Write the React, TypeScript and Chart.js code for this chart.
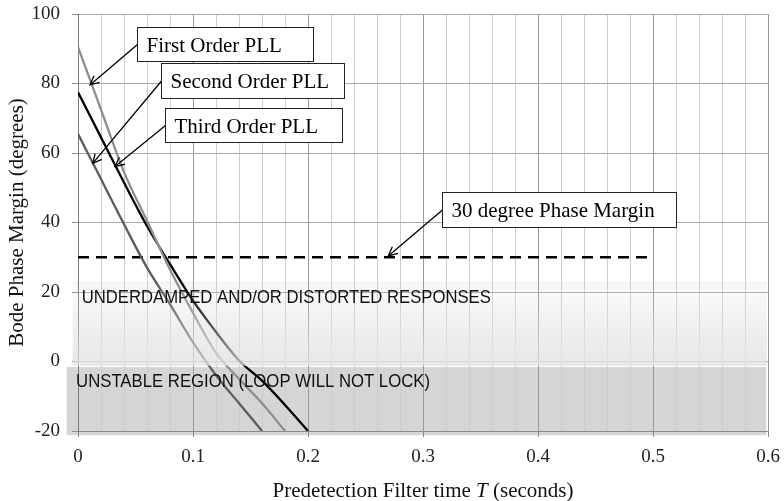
import React, { useEffect, useRef } from 'react';
import { Chart, registerables } from 'chart.js';

Chart.register(...registerables);

// ---- data ----
const timeT = [0, 0.02, 0.04, 0.06, 0.08, 0.1, 0.12, 0.14, 0.16, 0.18, 0.2];
const firstOrderPM = [90.5, 72.5, 54.5, 40.5, 26.5, 14, 2.5, -5, -12, -20];
const secondOrderPM = [65.5, 52.5, 39.5, 27, 16.5, 5.5, -4, -12, -20];
const thirdOrderPM = [77.5, 64.5, 51.5, 39, 28, 17.5, 8.5, 0.3, -5.5, -12.5, -20];
const marginLineT = [0, 0.5];
const marginLineDeg = [30, 30];

const xTickLabels = ['0', '0.1', '0.2', '0.3', '0.4', '0.5', '0.6'];
const xMinorStep = 0.02;
const yTicks = [-20, 0, 20, 40, 60, 80, 100];

const calloutTexts = ['First Order PLL', 'Second Order PLL', 'Third Order PLL', '30 degree Phase Margin'];
const calloutBoxX0 = [0.051, 0.0719, 0.0757, 0.3163];
const calloutBoxX1 = [0.2046, 0.2316, 0.2298, 0.5197];
const calloutBoxYTop = [96.35, 85.81, 72.86, 48.69];
const calloutBoxYBottom = [86.47, 75.74, 63.08, 38.79];
const calloutTipX = [0.0104, 0.0128, 0.0322, 0.2698];
const calloutTipY = [79.6, 57.0, 56.1, 30.36];

const underdampedLabel = 'UNDERDAMPED AND/OR DISTORTED RESPONSES';
const unstableLabel = 'UNSTABLE REGION (LOOP WILL NOT LOCK)';
const underdampedBand = { x0: -0.0046, x1: 0.599, top: 23, bottom: -1.2 };
const unstableBand = { x0: -0.0098, x1: 0.5985, top: -1.6, bottom: -21.2 };
const underdampedText = { x: 0.0032, y: 18.9, x1: 0.359 };
const unstableText = { x: -0.0017, y: -5.3, x1: 0.3061 };

const xTitleA = 'Predetection Filter time ';
const xTitleItalic = 'T';
const xTitleB = ' (seconds)';
const yTitle = 'Bode Phase Margin (degrees)';

const serif = '"Liberation Serif", "Times New Roman", serif';
const sans = '"Liberation Sans", Arial, sans-serif';

function pts(xs: number[], ys: number[]) {
  return ys.map((y, i) => ({ x: xs[i], y }));
}

function isMajor(v: number) {
  return Math.abs(v * 10 - Math.round(v * 10)) < 1e-6;
}

const decorPlugin = {
  id: 'decor',
  beforeDraw(chart: any) {
    const { ctx, scales } = chart;
    const xs = scales.x, ys = scales.y;
    ctx.save();
    ctx.fillStyle = '#d5d5d5';
    const x0 = xs.getPixelForValue(unstableBand.x0);
    const x1 = xs.getPixelForValue(unstableBand.x1);
    const y0 = ys.getPixelForValue(unstableBand.top);
    const y1 = ys.getPixelForValue(unstableBand.bottom);
    ctx.fillRect(x0, y0, x1 - x0, y1 - y0);
    const ux0 = xs.getPixelForValue(underdampedBand.x0);
    const ux1 = xs.getPixelForValue(underdampedBand.x1);
    const uy0 = ys.getPixelForValue(underdampedBand.top);
    const uy1 = ys.getPixelForValue(underdampedBand.bottom);
    const g = ctx.createLinearGradient(0, uy0, 0, uy1);
    g.addColorStop(0, '#f3f3f3');
    g.addColorStop(0.12, '#fafafa');
    g.addColorStop(1, '#e6e6e6');
    ctx.fillStyle = g;
    ctx.fillRect(ux0, uy0, ux1 - ux0, uy1 - uy0);
    ctx.restore();
  },
  afterDatasetsDraw(chart: any) {
    const { ctx, scales } = chart;
    const xs = scales.x, ys = scales.y;
    ctx.save();
    const ux0 = xs.getPixelForValue(underdampedBand.x0);
    const ux1 = xs.getPixelForValue(underdampedBand.x1);
    const uy0 = ys.getPixelForValue(underdampedBand.top);
    const uy1 = ys.getPixelForValue(underdampedBand.bottom);
    const g = ctx.createLinearGradient(0, uy0, 0, uy1);
    g.addColorStop(0, 'rgba(245,245,245,0.0)');
    g.addColorStop(0.4, 'rgba(240,240,240,0.25)');
    g.addColorStop(1, 'rgba(232,232,232,0.75)');
    ctx.fillStyle = g;
    ctx.fillRect(ux0, uy0, ux1 - ux0, uy1 - uy0);

    const drawFit = (text: string, pos: { x: number; y: number; x1: number }) => {
      ctx.font = `19px ${sans}`;
      ctx.fillStyle = '#111';
      ctx.textBaseline = 'alphabetic';
      ctx.textAlign = 'left';
      const left = xs.getPixelForValue(pos.x);
      const right = xs.getPixelForValue(pos.x1);
      const w = ctx.measureText(text).width;
      const cy = ys.getPixelForValue(pos.y);
      ctx.save();
      ctx.translate(left, cy + 6.8);
      ctx.scale((right - left) / w, 1);
      ctx.fillText(text, 0, 0);
      ctx.restore();
    };
    drawFit(underdampedLabel, underdampedText);
    drawFit(unstableLabel, unstableText);

    const fs = 21;
    for (let i = 0; i < calloutTexts.length; i++) {
      const bx0 = Math.round(xs.getPixelForValue(calloutBoxX0[i])) + 0.5;
      const bx1 = Math.round(xs.getPixelForValue(calloutBoxX1[i])) + 0.5;
      const by0 = Math.round(ys.getPixelForValue(calloutBoxYTop[i])) + 0.5;
      const by1 = Math.round(ys.getPixelForValue(calloutBoxYBottom[i])) + 0.5;
      const midY = (by0 + by1) / 2;
      const tx = xs.getPixelForValue(calloutTipX[i]);
      const ty = ys.getPixelForValue(calloutTipY[i]);
      ctx.strokeStyle = '#000';
      ctx.lineWidth = 1.3;
      ctx.beginPath();
      ctx.moveTo(bx0, midY);
      ctx.lineTo(tx, ty);
      ctx.stroke();
      const ang = Math.atan2(midY - ty, bx0 - tx);
      const hl = 10, ha = 0.45;
      ctx.beginPath();
      ctx.moveTo(tx + hl * Math.cos(ang + ha), ty + hl * Math.sin(ang + ha));
      ctx.lineTo(tx, ty);
      ctx.lineTo(tx + hl * Math.cos(ang - ha), ty + hl * Math.sin(ang - ha));
      ctx.stroke();
      ctx.fillStyle = '#fff';
      ctx.fillRect(bx0, by0, bx1 - bx0, by1 - by0);
      ctx.lineWidth = 1;
      ctx.strokeStyle = '#222';
      ctx.strokeRect(bx0, by0, bx1 - bx0, by1 - by0);
      ctx.fillStyle = '#000';
      ctx.font = `${fs}px ${serif}`;
      ctx.textAlign = 'left';
      ctx.textBaseline = 'alphabetic';
      ctx.fillText(calloutTexts[i], bx0 + 9, midY + fs * 0.34);
    }
    ctx.restore();
  },
  afterDraw(chart: any) {
    const { ctx, chartArea } = chart;
    ctx.save();
    ctx.fillStyle = '#111';
    ctx.textBaseline = 'alphabetic';
    ctx.textAlign = 'left';
    const fs = 21;
    const normal = `${fs}px ${serif}`;
    const italic = `italic ${fs}px ${serif}`;
    ctx.font = normal;
    const wa = ctx.measureText(xTitleA).width;
    const wb = ctx.measureText(xTitleB).width;
    ctx.font = italic;
    const wi = ctx.measureText(xTitleItalic).width;
    const total = wa + wi + wb;
    const cx = (chartArea.left + chartArea.right) / 2;
    let x = cx - total / 2;
    const by = chart.height - 4;
    ctx.font = normal;
    ctx.fillText(xTitleA, x, by);
    x += wa;
    ctx.font = italic;
    ctx.fillText(xTitleItalic, x, by);
    x += wi;
    ctx.font = normal;
    ctx.fillText(xTitleB, x, by);

    ctx.translate(23, (chartArea.top + chartArea.bottom) / 2);
    ctx.rotate(-Math.PI / 2);
    ctx.textAlign = 'center';
    ctx.font = normal;
    ctx.fillText(yTitle, 0, 0);
    ctx.restore();
  },
};

export default function App() {
  const ref = useRef<HTMLCanvasElement | null>(null);
  useEffect(() => {
    if (!ref.current) return;
    const chart = new Chart(ref.current, {
      type: 'line',
      data: {
        datasets: [
          {
            label: 'First Order PLL',
            data: pts(timeT, firstOrderPM),
            borderColor: '#8e8e8e',
            borderWidth: 2.3,
            pointRadius: 0,
            cubicInterpolationMode: 'monotone',
          },
          {
            label: 'Second Order PLL',
            data: pts(timeT, secondOrderPM),
            borderColor: '#5c5c5c',
            borderWidth: 2.3,
            pointRadius: 0,
            cubicInterpolationMode: 'monotone',
          },
          {
            label: 'Third Order PLL',
            data: pts(timeT, thirdOrderPM),
            borderColor: '#000',
            borderWidth: 2.3,
            pointRadius: 0,
            cubicInterpolationMode: 'monotone',
          },
          {
            label: '30 degree Phase Margin',
            data: pts(marginLineT, marginLineDeg),
            borderColor: '#000',
            borderWidth: 2.5,
            borderDash: [11, 7],
            pointRadius: 0,
          },
        ] as any,
      },
      options: {
        responsive: false,
        animation: false,
        devicePixelRatio: 1,
        layout: { padding: { top: 14, right: 16, left: 0, bottom: 0 } },
        plugins: { legend: { display: false }, tooltip: { enabled: false } },
        scales: {
          x: {
            type: 'linear',
            min: 0,
            max: 0.6,
            afterBuildTicks: (s: any) => {
              const n = Math.round(0.6 / xMinorStep);
              const t = [];
              for (let i = 0; i <= n; i++) t.push({ value: +(i * xMinorStep).toFixed(4) });
              s.ticks = t;
            },
            afterFit: (s: any) => {
              s.height = 70;
              s.paddingLeft = 0;
              s.paddingRight = 0;
            },
            grid: {
              color: (c: any) => (c.tick && isMajor(c.tick.value) ? '#9a9a9a' : '#cdcdcd'),
              tickColor: (c: any) => (c.tick && isMajor(c.tick.value) ? '#8a8a8a' : 'rgba(0,0,0,0)'),
              tickLength: 6,
              lineWidth: 1,
            },
            border: { color: '#8a8a8a', width: 1 },
            ticks: {
              autoSkip: false,
              maxRotation: 0,
              padding: 9,
              color: '#222',
              font: { family: serif, size: 19 },
              callback: (v: any) => {
                const val = Number(v);
                if (!isMajor(val)) return '';
                return xTickLabels[Math.round(val * 10)];
              },
            },
          },
          y: {
            min: yTicks[0],
            max: yTicks[yTicks.length - 1],
            afterFit: (s: any) => {
              s.width = 78;
              s.paddingTop = 0;
              s.paddingBottom = 0;
            },
            grid: { color: '#a8a8a8', tickColor: '#8a8a8a', tickLength: 6, lineWidth: 1 },
            border: { color: '#7a7a7a', width: 1 },
            ticks: {
              stepSize: 20,
              padding: 12,
              color: '#222',
              font: { family: serif, size: 19 },
              callback: (v: any) => String(v),
            },
          },
        },
      } as any,
      plugins: [decorPlugin],
    });
    return () => chart.destroy();
  }, []);
  return (
    <div style={{ position: 'absolute', left: 0, top: 0, width: 784, height: 501, background: '#fff' }}>
      <canvas ref={ref} width={784} height={501} style={{ display: 'block' }} />
    </div>
  );
}
